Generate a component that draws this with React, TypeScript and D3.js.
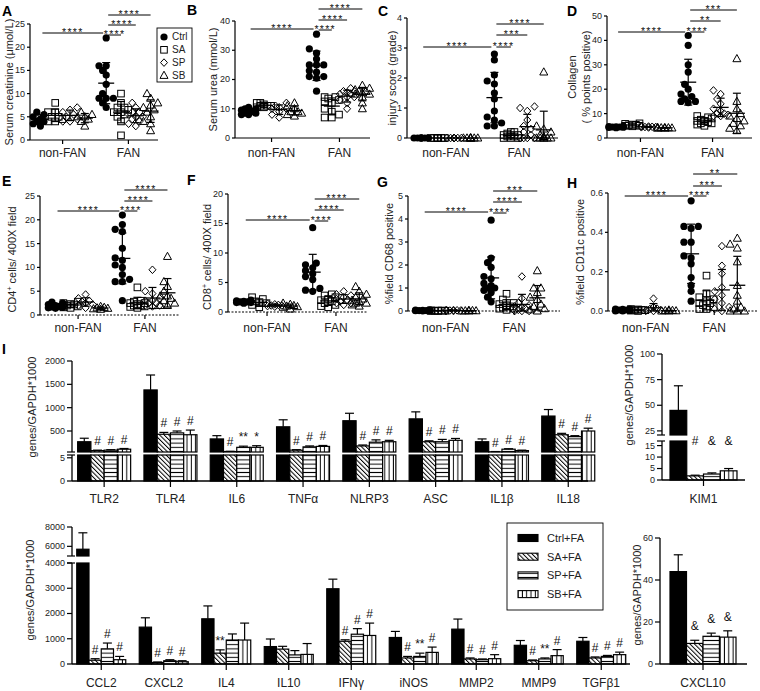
import React from "react";
import * as d3 from "d3";

const FONT = "'Liberation Sans', Arial, Helvetica, sans-serif";
const GROUPS = ["non-FAN", "FAN"];
const SERIES = ["Ctrl", "SA", "SP", "SB"];

// ---------- scatter data (non-FAN / FAN, columns Ctrl, SA, SP, SB) ----------
const creatNonFAN = [
  [3, 3.5, 4, 4, 4.5, 5, 5.5, 6],
  [4, 4, 4.5, 5, 5, 6, 6, 8],
  [4, 4, 4.5, 5, 5.5, 6, 6.5, 7],
  [3, 4, 4.5, 5, 5, 5.5, 6],
];
const creatFAN = [
  [22, 16, 16, 15, 14, 12, 10, 9, 9, 9, 8, 7],
  [10, 8, 7, 7, 6.5, 6, 6, 5.5, 5, 4, 1],
  [8, 7, 6, 6, 5.5, 5, 5, 4.5, 4, 3.5, 3],
  [10, 9, 8, 7.5, 7, 6.5, 6, 5, 4, 3.5, 2],
];
const ureaNonFAN = [
  [8, 8.5, 8.5, 9, 9, 9.5, 10, 10, 10.5, 8],
  [10.5, 10.5, 11, 11, 11, 11.5, 12, 12],
  [7, 8, 9, 10, 10, 10.5, 11, 12],
  [7.5, 8, 8.5, 9, 9, 10, 11, 12],
];
const ureaFAN = [
  [35.5, 30.5, 29, 27, 25, 25, 25, 23, 22.5, 21, 21, 20.5, 16],
  [14, 14, 13.5, 13, 12.5, 12, 10, 9, 8, 7, 7],
  [17, 16, 16, 15.5, 15, 15, 14, 14, 13, 12, 10],
  [18, 17, 16.5, 16, 16, 15.5, 15, 15, 14, 12, 10],
];
const injuryNonFAN = [
  [0, 0, 0, 0, 0, 0, 0, 0],
  [0, 0, 0, 0, 0, 0, 0, 0],
  [0, 0, 0, 0, 0, 0, 0, 0],
  [0, 0, 0, 0, 0, 0, 0, 0],
];
const injuryFAN = [
  [2.8, 2.6, 2.1, 1.9, 1.8, 1.5, 1.3, 0.9, 0.7, 0.6, 0.5, 0.4, 0.4],
  [0.2, 0.2, 0.15, 0.1, 0.1, 0.1, 0.05, 0.05, 0, 0, 0],
  [1.05, 1.0, 0.9, 0.6, 0.4, 0.3, 0.2, 0.1, 0, 0, 0, 0],
  [2.2, 0.4, 0.3, 0.2, 0.1, 0.05, 0, 0, 0, 0, 0, 0],
];
const collagenNonFAN = [
  [4.2, 4.5, 4.5, 4.8, 4.3, 4.6, 4.4, 4.7],
  [5, 5.5, 6, 5.2, 4.8, 5.8, 5.4, 5],
  [4.5, 4.3, 4.8, 4.6, 4.4, 4.5, 4.7],
  [4, 4.2, 4.4, 4.1, 4.3, 4.2, 4.0],
];
const collagenFAN = [
  [42, 38, 30, 27, 22, 20, 18, 17, 16, 15, 15, 14.5],
  [9, 8.5, 8, 7.5, 7, 7, 6.5, 6, 6, 5.5, 5],
  [19.5, 18, 16, 14, 12, 11, 10, 10, 9.5, 9, 9],
  [32.5, 15, 12, 10, 9, 8, 7, 6, 5, 4, 3],
];
const cd4NonFAN = [
  [1.4, 1.5, 1.6, 1.7, 1.8, 2, 2.2, 2.5, 2.7],
  [1.5, 1.6, 1.8, 2, 2.2, 2.3, 2.5, 2.8],
  [1.5, 2, 2.2, 2.5, 2.8, 3, 3.5, 4.3],
  [1.2, 1.3, 1.4, 1.5, 1.6, 1.8],
];
const cd4FAN = [
  [21, 19, 18, 17.5, 14, 12, 11.5, 10.5, 10, 8.5, 7.5, 7, 7, 3],
  [5.8, 3, 2.8, 2.5, 2.5, 2.3, 2, 2, 1.8, 1.7, 1.5],
  [9.5, 5, 4.5, 3.5, 3, 3, 2.5, 2.5, 2, 2, 1.8],
  [12.3, 7, 6, 5, 4, 4, 3.5, 3, 2.5, 2, 2],
];
const cd8NonFAN = [
  [1.5, 1.6, 1.6, 1.7, 1.7, 1.8, 1.9, 2],
  [0.8, 1.2, 1.5, 1.5, 1.8, 2.2, 2.5],
  [0.9, 1, 1.1, 1.1, 1.2, 1.3, 1.4],
  [0.5, 0.8, 0.9, 1, 1.1, 1.3, 1.5],
];
const cd8FAN = [
  [14.3, 8.3, 8, 7.5, 7, 6.5, 6, 5.5, 4, 3.7, 3.5],
  [3, 2.8, 2.5, 2.2, 2, 1.8, 1.5, 1.2, 1, 0.8],
  [3.5, 3, 2.8, 2.5, 2.2, 2, 1.8, 1.5, 1.5, 1.2],
  [4.3, 3.5, 3, 2.5, 2.2, 2, 1.8, 1.5, 1.5, 1.2, 1],
];
const cd68NonFAN = [
  [0, 0.02, 0.03, 0.01, 0.04, 0.02, 0.05, 0.01],
  [0, 0.01, 0.02, 0.03, 0.02, 0.01, 0],
  [0, 0.02, 0.04, 0.03, 0.01, 0.02, 0.05],
  [0, 0.01, 0.02, 0.01, 0.03, 0],
];
const cd68FAN = [
  [3.95, 2.3, 2.1, 1.9, 1.5, 1.4, 1.2, 1.1, 1, 1, 0.9, 0.8, 0.6, 0.4],
  [0.75, 0.5, 0.35, 0.3, 0.25, 0.2, 0.15, 0.1, 0.1, 0.05],
  [1.5, 0.55, 0.35, 0.25, 0.2, 0.15, 0.1, 0.05, 0, 0, 0],
  [1.75, 1, 1, 0.8, 0.6, 0.5, 0.3, 0.2, 0.1, 0.05, 0],
];
const cd11cNonFAN = [
  [0, 0.005, 0.01, 0.005, 0, 0.01, 0.008, 0.003],
  [0, 0.004, 0.008, 0.006, 0.002, 0.01, 0.005],
  [0, 0.005, 0.01, 0.02, 0.063, 0.012, 0.004],
  [0, 0.002, 0.005, 0, 0.003, 0.001],
];
const cd11cFAN = [
  [0.56, 0.43, 0.43, 0.42, 0.35, 0.35, 0.28, 0.27, 0.24, 0.17, 0.13, 0.1, 0.05],
  [0.18, 0.09, 0.07, 0.06, 0.05, 0.04, 0.04, 0.03, 0.02, 0.01, 0.01],
  [0.33, 0.23, 0.19, 0.12, 0.1, 0.08, 0.06, 0.04, 0.02, 0.01, 0],
  [0.37, 0.34, 0.32, 0.25, 0.13, 0.08, 0.05, 0.02, 0.01, 0, 0, 0],
];

// ---------- bar data ----------
const innateGenes = ["TLR2", "TLR4", "IL6", "TNFα", "NLRP3", "ASC", "IL1β", "IL18"];
const innateCtrl = [270, 1380, 330, 590, 720, 760, 270, 820];
const innateCtrlErr = [75, 320, 70, 150, 160, 150, 60, 140];
const innateSA = [80, 430, 60, 90, 180, 270, 55, 420];
const innateSAErr = [10, 40, 5, 10, 20, 20, 5, 30];
const innateSP = [90, 460, 150, 160, 260, 270, 110, 380];
const innateSPErr = [10, 40, 25, 20, 50, 50, 10, 20];
const innateSB = [110, 420, 150, 170, 270, 300, 80, 500];
const innateSBErr = [15, 100, 35, 20, 30, 40, 10, 60];
const innateMarks = [
  ["#", "#", "#"], ["#", "#", "#"], ["#", "**", "*"], ["#", "#", "#"],
  ["#", "#", "#"], ["#", "#", "#"], ["#", "#", "#"], ["#", "#", "#"],
];

const kimGenes = ["KIM1"];
const kimCtrl = [45];
const kimCtrlErr = [24];
const kimSA = [1.8];
const kimSAErr = [0.3];
const kimSP = [2.6];
const kimSPErr = [0.5];
const kimSB = [4];
const kimSBErr = [1];
const kimMarks = [["#", "&", "&"]];

const cytoGenes = ["CCL2", "CXCL2", "IL4", "IL10", "IFNγ", "iNOS", "MMP2", "MMP9", "TGFβ1"];
const cytoCtrl = [5700, 1460, 1790, 690, 2980, 1050, 1380, 740, 900];
const cytoCtrlErr = [1700, 370, 510, 300, 380, 240, 400, 190, 150];
const cytoSA = [150, 60, 430, 590, 900, 240, 200, 130, 240];
const cytoSAErr = [60, 20, 130, 110, 60, 60, 40, 30, 40];
const cytoSP = [600, 130, 950, 360, 1180, 300, 170, 200, 300];
const cytoSPErr = [230, 40, 240, 170, 220, 130, 30, 40, 40];
const cytoSB = [170, 90, 950, 380, 1130, 460, 210, 330, 370];
const cytoSBErr = [130, 40, 670, 430, 490, 210, 160, 240, 100];
const cytoMarks = [
  ["#", "#", "#"], ["#", "#", "#"], ["**", "", ""], ["", "", ""], ["#", "#", "#"],
  ["#", "**", "#"], ["#", "#", "#"], ["#", "**", "#"], ["#", "#", "#"],
];

const cxclGenes = ["CXCL10"];
const cxclCtrl = [44];
const cxclCtrlErr = [8];
const cxclSA = [9.8];
const cxclSAErr = [1.5];
const cxclSP = [13.2];
const cxclSPErr = [1.5];
const cxclSB = [12.8];
const cxclSBErr = [3];
const cxclMarks = [["&", "&", "&"]];

const barLegend = ["Ctrl+FA", "SA+FA", "SP+FA", "SB+FA"];

// ---------- layout ----------
type Sig = { from: [number, number]; to: [number, number]; y: number; t: string };
type ScatterCfg = {
  letter: string; lx: number; ly: number;
  title: any; titleX: number[];
  axisX: number; start: number; end: number; axisEnd: number;
  y0: number; y1: number; max: number; ticks: number[]; fmt: (v: number) => string;
  nonFAN: number[][]; fan: number[][]; dotted: boolean; labelY: number; sig: Sig[];
};

const fmtInt = d3.format("d");
const sig4 = (y: number[], t: string[]): Sig[] => [
  { from: [0, 0], to: [1, 0], y: y[0], t: t[0] },
  { from: [1, 0], to: [1, 1], y: y[1], t: t[1] },
  { from: [1, 0], to: [1, 2], y: y[2], t: t[2] },
  { from: [1, 0], to: [1, 3], y: y[3], t: t[3] },
];
const S4 = ["****", "****", "****", "****"];

const scatterPanels: ScatterCfg[] = [
  { letter: "A", lx: 2, ly: 16, title: ["Serum creatinine (μmol/L)"], titleX: [9], axisX: 30, start: 33, end: 158, axisEnd: 158,
    y0: 140, y1: 24, max: 25, ticks: [0, 5, 10, 15, 20, 25], fmt: fmtInt, nonFAN: creatNonFAN, fan: creatFAN, dotted: false, labelY: 157,
    sig: sig4([33, 35, 25, 15], S4) },
  { letter: "B", lx: 187, ly: 15, title: ["Serum urea (mmol/L)"], titleX: [213], axisX: 235, start: 241, end: 370, axisEnd: 370,
    y0: 138, y1: 21, max: 40, ticks: [0, 10, 20, 30, 40], fmt: fmtInt, nonFAN: ureaNonFAN, fan: ureaFAN, dotted: false, labelY: 157,
    sig: sig4([29, 30, 20, 9], S4) },
  { letter: "C", lx: 378, ly: 16, title: ["injury score (grade)"], titleX: [392], axisX: 407, start: 413, end: 552, axisEnd: 558,
    y0: 138, y1: 18, max: 4, ticks: [0, 1, 2, 3, 4], fmt: fmtInt, nonFAN: injuryNonFAN, fan: injuryFAN, dotted: false, labelY: 157,
    sig: sig4([47, 47, 35, 24], ["****", "****", "***", "****"]) },
  { letter: "D", lx: 567, ly: 16, title: ["Collagen", "( % points positive)"], titleX: [572, 586], axisX: 607, start: 608, end: 745, axisEnd: 752,
    y0: 138, y1: 16, max: 50, ticks: [0, 10, 20, 30, 40, 50], fmt: fmtInt, nonFAN: collagenNonFAN, fan: collagenFAN, dotted: false, labelY: 157,
    sig: sig4([32, 32, 21, 10], ["****", "****", "**", "***"]) },
  { letter: "E", lx: 2, ly: 186, title: "CD4", titleX: [12], axisX: 40, start: 48, end: 175, axisEnd: 180,
    y0: 315, y1: 196, max: 25, ticks: [0, 5, 10, 15, 20, 25], fmt: fmtInt, nonFAN: cd4NonFAN, fan: cd4FAN, dotted: true, labelY: 332,
    sig: sig4([211, 211, 201, 190], S4) },
  { letter: "F", lx: 187, ly: 185, title: "CD8", titleX: [207], axisX: 228, start: 236, end: 367, axisEnd: 367,
    y0: 312, y1: 194, max: 20, ticks: [0, 5, 10, 15, 20], fmt: fmtInt, nonFAN: cd8NonFAN, fan: cd8FAN, dotted: true, labelY: 332,
    sig: sig4([220, 221, 210, 199], S4) },
  { letter: "G", lx: 377, ly: 187, title: ["%field CD68 positive"], titleX: [389], axisX: 408, start: 415, end: 545, axisEnd: 560,
    y0: 311, y1: 196, max: 5, ticks: [0, 1, 2, 3, 4, 5], fmt: fmtInt, nonFAN: cd68NonFAN, fan: cd68FAN, dotted: true, labelY: 332,
    sig: sig4([212, 213, 202, 191], ["****", "****", "****", "***"]) },
  { letter: "H", lx: 567, ly: 188, title: ["%field CD11c positive"], titleX: [580], axisX: 608, start: 615, end: 745, axisEnd: 757,
    y0: 311, y1: 193, max: 0.6, ticks: [0, 0.2, 0.4, 0.6], fmt: d3.format(".1f"), nonFAN: cd11cNonFAN, fan: cd11cFAN, dotted: true, labelY: 332,
    sig: sig4([196, 196, 186, 174], ["****", "****", "***", "**"]) },
];

// ---------- helpers ----------
function Marker({ s, x, y }: { s: number; x: number; y: number }) {
  const st = { fill: "none", stroke: "#000", strokeWidth: 1 };
  if (s === 0) return <circle cx={x} cy={y} r={3.6} fill="#000" />;
  if (s === 1) return <rect x={x - 3.3} y={y - 3.3} width={6.6} height={6.6} {...st} />;
  if (s === 2) return <path d={`M${x},${y - 3.8}L${x + 3.5},${y}L${x},${y + 3.8}L${x - 3.5},${y}Z`} {...st} />;
  return <path d={`M${x},${y - 4.2}L${x + 4},${y + 3}L${x - 4},${y + 3}Z`} {...st} />;
}

function swarm(values: number[], y: (v: number) => number, step = 3.6, minD = 5.8) {
  const sorted = [...values].sort((a, b) => a - b);
  const placed: { dx: number; py: number }[] = [];
  const cands = [0, -1, 1, -2, 2];
  for (const v of sorted) {
    const py = y(v);
    let best = 0, bestD = -1;
    for (const c of cands) {
      const dx = c * step;
      let md = Infinity;
      for (const p of placed) { const d = Math.hypot(p.dx - dx, p.py - py); if (d < md) md = d; }
      if (md >= minD) { best = dx; break; }
      if (md > bestD) { bestD = md; best = dx; }
    }
    placed.push({ dx: best, py });
  }
  return placed;
}

function YTitle({ x, cy, children, size = 11 }: any) {
  return (
    <text transform={`translate(${x},${cy}) rotate(-90)`} textAnchor="middle" dy="0.35em" fontSize={size} fill="#222">
      {children}
    </text>
  );
}

function Scatter({ c }: { c: ScatterCfg }) {
  const y = d3.scaleLinear().domain([0, c.max]).range([c.y0, c.y1]);
  const gx = d3.scaleBand<string>().domain(GROUPS).range([c.start, c.end]).paddingInner(0.1);
  const sx = d3.scaleBand<string>().domain(SERIES).range([0, gx.bandwidth()]);
  const colX = (g: number, s: number) => (gx(GROUPS[g]) as number) + (sx(SERIES[s]) as number) + sx.bandwidth() / 2;
  const data = [c.nonFAN, c.fan];
  const cy = (c.y0 + c.y1) / 2;
  let title: any;
  if (typeof c.title === "string") {
    title = (
      <YTitle x={c.titleX[0]} cy={cy + 4}>
        <tspan>{c.title}</tspan>
        <tspan dy={-4} fontSize={7}>+</tspan>
        <tspan dy={4}> cells/ 400X field</tspan>
      </YTitle>
    );
  } else {
    title = c.title.map((t: string, i: number) => <YTitle key={i} x={c.titleX[i]} cy={cy}>{t}</YTitle>);
  }
  return (
    <g>
      <text x={c.lx} y={c.ly} fontSize={14} fontWeight="bold">{c.letter}</text>
      {title}
      {/* y axis */}
      <line x1={c.axisX} x2={c.axisX} y1={c.y0} y2={c.y1} stroke="#000" strokeWidth={1.2} />
      {c.ticks.map((t) => (
        <g key={t}>
          <line x1={c.axisX - 3} x2={c.axisX} y1={y(t)} y2={y(t)} stroke="#000" strokeWidth={1.2} />
          <text x={c.axisX - 5} y={y(t)} dy="0.33em" textAnchor="end" fontSize={9} fill="#222">{c.fmt(t)}</text>
        </g>
      ))}
      {/* x axis */}
      <line x1={c.axisX} x2={c.axisEnd} y1={c.y0} y2={c.y0} stroke="#000" strokeWidth={1.2}
        strokeDasharray={c.dotted ? "2,1.5" : undefined} />
      {GROUPS.map((g) => {
        const gc = (gx(g) as number) + gx.bandwidth() / 2;
        return (
          <g key={g}>
            <line x1={gc} x2={gc} y1={c.y0} y2={c.y0 + 4} stroke="#000" strokeWidth={1.2} />
            <text x={gc} y={c.labelY} textAnchor="middle" fontSize={12} fill="#222">{g}</text>
          </g>
        );
      })}
      {/* points */}
      {data.map((grp, gi) =>
        grp.map((vals, si) => {
          const cx = colX(gi, si);
          const pts = swarm(vals, y);
          const m = d3.mean(vals) as number;
          const sd = (d3.deviation(vals) as number) || 0;
          return (
            <g key={`${gi}-${si}`}>
              {pts.map((p, k) => <Marker key={k} s={si} x={cx + p.dx} y={p.py} />)}
              <line x1={cx - 8} x2={cx + 8} y1={y(m)} y2={y(m)} stroke="#000" strokeWidth={1.3} />
              {sd > 0 && (
                <g stroke="#000" strokeWidth={1.2}>
                  <line x1={cx} x2={cx} y1={y(Math.max(0, m - sd))} y2={y(m + sd)} />
                  <line x1={cx - 4} x2={cx + 4} y1={y(m + sd)} y2={y(m + sd)} />
                  <line x1={cx - 4} x2={cx + 4} y1={y(Math.max(0, m - sd))} y2={y(Math.max(0, m - sd))} />
                </g>
              )}
            </g>
          );
        })
      )}
      {/* significance */}
      {c.sig.map((s, i) => {
        const x1 = colX(s.from[0], s.from[1]) + 2;
        const x2 = colX(s.to[0], s.to[1]) - (s.from[0] !== s.to[0] ? 3 : 0);
        return (
          <g key={i}>
            <line x1={x1} x2={x2} y1={s.y} y2={s.y} stroke="#000" strokeWidth={1} />
            <text x={(x1 + x2) / 2} y={s.y + 2.5} textAnchor="middle" fontSize={10.5} letterSpacing={1.3} fill="#111">{s.t}</text>
          </g>
        );
      })}
    </g>
  );
}

type Seg = { domain: [number, number]; range: [number, number]; ticks: number[] };
type BarCfg = {
  cats: string[]; vals: number[][]; errs: number[][]; marks: string[][];
  segs: Seg[]; axisX: number; axisEnd: number; band: [number, number]; half: number;
  catY: number; title: string; titleX: number; titleY: number; markY?: number; markOff?: number;
};

const FILLS = ["#000", "url(#pDiag)", "url(#pHoriz)", "url(#pVert)"];

function BarPanel({ c }: { c: BarCfg }) {
  const band = d3.scaleBand<string>().domain(c.cats).range(c.band);
  const inner = d3.scaleBand<string>().domain(SERIES).range([-c.half, c.half]);
  const scales = c.segs.map((s) => d3.scaleLinear().domain(s.domain).range(s.range));
  const base = c.segs[0].range[0];
  const segOf = (v: number) => {
    for (let i = c.segs.length - 1; i >= 0; i--) if (v >= c.segs[i].domain[0]) return i;
    return 0;
  };
  const yv = (v: number) => scales[segOf(v)](v);
  return (
    <g>
      <YTitle x={c.titleX} cy={c.titleY}>{c.title}</YTitle>
      {/* y axis segments */}
      {c.segs.map((s, i) => (
        <g key={i}>
          <line x1={c.axisX} x2={c.axisX} y1={s.range[0]} y2={s.range[1]} stroke="#000" strokeWidth={1.3} />
          {s.ticks.map((t) => (
            <g key={t}>
              <line x1={c.axisX - 5} x2={c.axisX} y1={scales[i](t)} y2={scales[i](t)} stroke="#000" strokeWidth={1.2} />
              <text x={c.axisX - 7} y={scales[i](t)} dy="0.33em" textAnchor="end" fontSize={9} fill="#222">{t}</text>
            </g>
          ))}
          {i < c.segs.length - 1 && (
            <line x1={c.axisX - 5} x2={c.axisX + 3} y1={s.range[1]} y2={s.range[1]} stroke="#000" strokeWidth={1.2} />
          )}
          {i > 0 && (
            <line x1={c.axisX - 5} x2={c.axisX + 3} y1={s.range[0]} y2={s.range[0]} stroke="#000" strokeWidth={1.2} />
          )}
        </g>
      ))}
      {/* bars */}
      {c.cats.map((cat, ci) => {
        const xc = (band(cat) as number) + band.bandwidth() / 2;
        return (
          <g key={cat}>
            {SERIES.map((s, si) => {
              const v = c.vals[si][ci];
              const e = c.errs[si][ci];
              const bx = xc + (inner(s) as number);
              const bw = inner.bandwidth();
              const top = yv(v + e);
              const mark = si > 0 ? c.marks[ci][si - 1] : "";
              const my = c.markY !== undefined ? c.markY : top - (c.markOff ?? 5);
              return (
                <g key={s}>
                  {c.segs.map((sg, gi) => {
                    if (v <= sg.domain[0]) return null;
                    const yt = scales[gi](Math.min(v, sg.domain[1]));
                    return (
                      <rect key={gi} x={bx} y={yt} width={bw} height={sg.range[0] - yt}
                        fill={FILLS[si]} stroke="#000" strokeWidth={1.2} />
                    );
                  })}
                  <line x1={bx + bw / 2} x2={bx + bw / 2} y1={yv(v)} y2={top} stroke="#000" strokeWidth={1.2} />
                  <line x1={bx + bw / 2 - 4.5} x2={bx + bw / 2 + 4.5} y1={top} y2={top} stroke="#000" strokeWidth={1.2} />
                  {mark && (
                    <text x={bx + bw / 2} y={my} textAnchor="middle" fontSize={12} fill="#111">{mark}</text>
                  )}
                </g>
              );
            })}
            <line x1={xc} x2={xc} y1={base} y2={base + 6} stroke="#000" strokeWidth={1.2} />
            <text x={xc} y={c.catY} textAnchor="middle" fontSize={12} fill="#222">{cat}</text>
          </g>
        );
      })}
      <line x1={c.axisX} x2={c.axisEnd} y1={base} y2={base} stroke="#000" strokeWidth={1.3} />
    </g>
  );
}

const innateCfg: BarCfg = {
  cats: innateGenes, vals: [innateCtrl, innateSA, innateSP, innateSB],
  errs: [innateCtrlErr, innateSAErr, innateSPErr, innateSBErr], marks: innateMarks,
  segs: [
    { domain: [0, 5.6], range: [481, 455], ticks: [0, 5] },
    { domain: [50, 2000], range: [452, 361], ticks: [500, 1000, 1500, 2000] },
  ],
  axisX: 72, axisEnd: 588, band: [71, 601.4], half: 26.5, catY: 503,
  title: "genes/GAPDH*1000", titleX: 32, titleY: 407,
};
const kimCfg: BarCfg = {
  cats: kimGenes, vals: [kimCtrl, kimSA, kimSP, kimSB], errs: [kimCtrlErr, kimSAErr, kimSPErr, kimSBErr], marks: kimMarks,
  segs: [
    { domain: [0, 17], range: [480, 441], ticks: [0, 5, 10, 15] },
    { domain: [21, 100], range: [435, 354], ticks: [25, 50, 75, 100] },
  ],
  axisX: 662, axisEnd: 745, band: [670, 737], half: 33.5, catY: 503,
  title: "genes/GAPDH*1000", titleX: 629, titleY: 395, markY: 445,
};
const cytoCfg: BarCfg = {
  cats: cytoGenes, vals: [cytoCtrl, cytoSA, cytoSP, cytoSB], errs: [cytoCtrlErr, cytoSAErr, cytoSPErr, cytoSBErr], marks: cytoMarks,
  segs: [
    { domain: [0, 4000], range: [664, 563], ticks: [0, 1000, 2000, 3000, 4000] },
    { domain: [5000, 8000], range: [556, 527], ticks: [6000, 8000] },
  ],
  axisX: 72, axisEnd: 630, band: [70, 632.5], half: 24.5, catY: 687,
  title: "genes/GAPDH*1000", titleX: 30, titleY: 590,
};
const cxclCfg: BarCfg = {
  cats: cxclGenes, vals: [cxclCtrl, cxclSA, cxclSP, cxclSB], errs: [cxclCtrlErr, cxclSAErr, cxclSPErr, cxclSBErr], marks: cxclMarks,
  segs: [{ domain: [0, 60], range: [664, 538], ticks: [0, 20, 40, 60] }],
  axisX: 660, axisEnd: 747, band: [670, 736], half: 33, catY: 687,
  title: "genes/GAPDH*1000", titleX: 637, titleY: 595, markOff: 10,
};

export default function App() {
  return (
    <svg width={760} height={691} style={{ position: "absolute", left: 0, top: 0, background: "#fff" }}
      fontFamily={FONT}>
      <defs>
        <pattern id="pDiag" width={3.2} height={3.2} patternUnits="userSpaceOnUse" patternTransform="rotate(-45)">
          <rect width={3.2} height={3.2} fill="#fff" />
          <line x1={0.5} y1={0} x2={0.5} y2={3.2} stroke="#000" strokeWidth={1} />
        </pattern>
        <pattern id="pHoriz" width={4} height={4.2} patternUnits="userSpaceOnUse">
          <rect width={4} height={4.2} fill="#fff" />
          <line x1={0} y1={2.1} x2={4} y2={2.1} stroke="#000" strokeWidth={1} />
        </pattern>
        <pattern id="pVert" width={4.3} height={4} patternUnits="userSpaceOnUse">
          <rect width={4.3} height={4} fill="#fff" />
          <line x1={2.1} y1={0} x2={2.1} y2={4} stroke="#000" strokeWidth={1} />
        </pattern>
      </defs>
      <rect width={760} height={691} fill="#fff" />
      {scatterPanels.map((c) => <Scatter key={c.letter} c={c} />)}
      {/* legend A */}
      <g>
        <rect x={157} y={28} width={35} height={54} fill="#fff" stroke="#000" strokeWidth={0.9} />
        {SERIES.map((s, i) => (
          <g key={s}>
            <Marker s={i} x={164} y={37 + i * 12.8} />
            <text x={172} y={37 + i * 12.8} dy="0.33em" fontSize={10} fill="#222">{s}</text>
          </g>
        ))}
      </g>
      {/* panel I */}
      <text x={2} y={354} fontSize={14} fontWeight="bold">I</text>
      <BarPanel c={innateCfg} />
      <BarPanel c={kimCfg} />
      <BarPanel c={cytoCfg} />
      <BarPanel c={cxclCfg} />
      {/* bar legend */}
      <g>
        <rect x={507} y={523} width={96} height={87} fill="#fff" stroke="#000" strokeWidth={0.9} />
        {barLegend.map((t, i) => (
          <g key={t}>
            <rect x={518} y={534.5 + i * 18.7} width={20} height={7} fill={FILLS[i]} stroke="#000" strokeWidth={1.1} />
            <text x={547} y={538 + i * 18.7} dy="0.35em" fontSize={11} fill="#222">{t}</text>
          </g>
        ))}
      </g>
    </svg>
  );
}
